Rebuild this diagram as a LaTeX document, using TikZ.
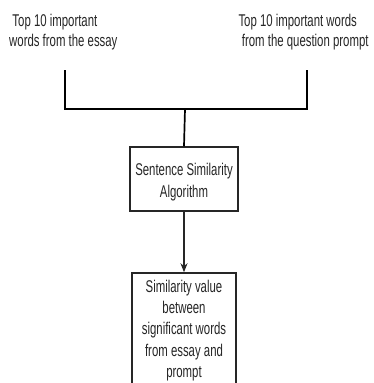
\documentclass[tikz,border=0pt]{standalone}
\usepackage{fontspec}
\setmainfont{Liberation Sans}[FakeStretch=0.67]
\usetikzlibrary{arrows.meta}
\begin{document}
\begin{tikzpicture}[x=1pt,y=-1pt,
  txt/.style={anchor=base west,inner sep=0pt,font=\fontsize{17}{20}\selectfont,text=black!85},
  ctxt/.style={anchor=base,inner sep=0pt,font=\fontsize{17}{20}\selectfont,text=black!85},
  boxnode/.style={draw=black!85,line width=1.5pt,fill=white,rectangle,inner sep=0pt},
  bracket/.style={draw=black,line width=2pt},
  conn/.style={draw=black!85,line width=1.5pt}]
\useasboundingbox (0,0) rectangle (373,383);
\clip (0,0) rectangle (373,383);
% top texts
\node[txt] (l1) at (12.3,26) {Top 10 important};
\node[txt] (l2) at (9,46.5) {words from the essay};
\node[txt] (r1) at (238.3,26) {Top 10 important words};
\node[txt] (r2) at (241.7,46.5) {from the question prompt};
% boxes
\node[boxnode,minimum width=108pt,minimum height=64pt] (alg) at (184,179) {};
\node[ctxt] (a1) at (184,175.5) {Sentence Similarity};
\node[ctxt] (a2) at (184,197) {Algorithm};
\node[boxnode,minimum width=104pt,minimum height=126pt] (res) at (184,336) {};
\node[ctxt] (s1) at (184,292) {Similarity value};
\node[ctxt] (s2) at (184,313.3) {between};
\node[ctxt] (s3) at (184,334.6) {significant words};
\node[ctxt] (s4) at (184,356) {from essay and};
\node[ctxt] (s5) at (184,377) {prompt};
% bracket
\coordinate (lt) at (65,70);
\coordinate (rt) at (307,70);
\coordinate (jn) at (185,109);
\draw[bracket,line join=miter] (lt) |- (jn) -| (rt);
\draw[bracket,line width=1.7pt] (jn) -- (alg.north);
\draw[conn,-{Stealth[length=9pt,width=7pt]}] (alg.south) -- (res.north);
\end{tikzpicture}
\end{document}
